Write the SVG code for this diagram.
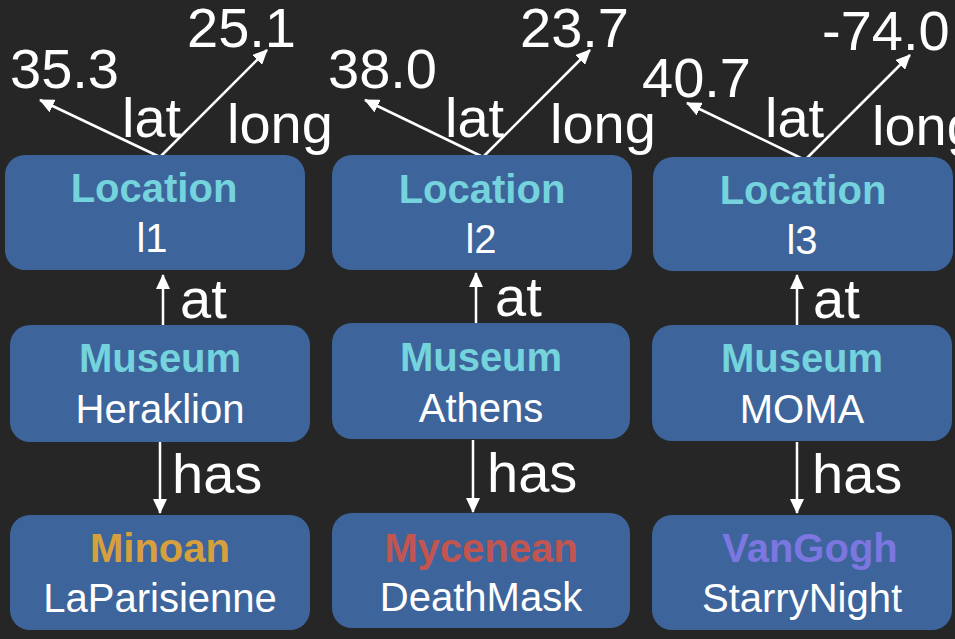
<svg xmlns="http://www.w3.org/2000/svg" width="955" height="639" viewBox="0 0 955 639">
<defs>
<style>
.box{fill:#3d659b;}
.t{font-family:"Liberation Sans",Arial,sans-serif;font-size:40px;text-anchor:middle;}
.ttl{font-weight:bold;fill:#74d3dc;}
.nm{fill:#ffffff;}
.lbl{font-family:"Liberation Sans",Arial,sans-serif;font-size:56px;fill:#ffffff;}
.edge{stroke:#ffffff;stroke-width:2.5;fill:none;marker-end:url(#ah);}
</style>
<marker id="ah" markerUnits="userSpaceOnUse" markerWidth="16" markerHeight="14" refX="14" refY="7" orient="auto">
<path d="M0,0 L15,7 L0,14 z" fill="#ffffff"/>
</marker>
</defs>
<rect width="955" height="639" fill="#262626"/>

<g id="connectors">
<line class="edge" x1="160" y1="157" x2="40" y2="100"/>
<line class="edge" x1="160" y1="157" x2="267" y2="50"/>
<line class="edge" x1="483" y1="157" x2="365" y2="100"/>
<line class="edge" x1="483" y1="157" x2="590" y2="50"/>
<line class="edge" x1="805" y1="160" x2="687" y2="103"/>
<line class="edge" x1="805" y1="160" x2="910" y2="55"/>
<line class="edge" x1="163" y1="325" x2="163" y2="275"/>
<line class="edge" x1="476" y1="323" x2="476" y2="273"/>
<line class="edge" x1="797" y1="325" x2="797" y2="275"/>
<line class="edge" x1="160" y1="442" x2="160" y2="513"/>
<line class="edge" x1="473" y1="440" x2="473" y2="512"/>
<line class="edge" x1="797" y1="442" x2="797" y2="513"/>
</g>

<g id="edge-labels">
<text class="lbl" x="10" y="88">35.3</text>
<text class="lbl" x="187" y="47">25.1</text>
<text class="lbl" x="122" y="137">lat</text>
<text class="lbl" x="227" y="143">long</text>
<text class="lbl" x="328" y="88">38.0</text>
<text class="lbl" x="520" y="47">23.7</text>
<text class="lbl" x="445" y="137">lat</text>
<text class="lbl" x="550" y="143">long</text>
<text class="lbl" x="642" y="97">40.7</text>
<text class="lbl" x="822" y="50">-74.0</text>
<text class="lbl" x="765" y="137">lat</text>
<text class="lbl" x="872" y="145">long</text>
<text class="lbl" x="180" y="318">at</text>
<text class="lbl" x="495" y="316">at</text>
<text class="lbl" x="813" y="318">at</text>
<text class="lbl" x="172" y="493">has</text>
<text class="lbl" x="487" y="492">has</text>
<text class="lbl" x="812" y="493">has</text>
</g>

<g id="loc1">
<rect class="box" x="5" y="155" width="300" height="115" rx="20"/>
<text class="t ttl" x="154" y="202">Location</text>
<text class="t nm" x="152" y="252">l1</text>
</g>
<g id="loc2">
<rect class="box" x="332" y="155" width="300" height="115" rx="20"/>
<text class="t ttl" x="482" y="203">Location</text>
<text class="t nm" x="481" y="253">l2</text>
</g>
<g id="loc3">
<rect class="box" x="653" y="157" width="300" height="114" rx="20"/>
<text class="t ttl" x="803" y="204">Location</text>
<text class="t nm" x="802" y="254">l3</text>
</g>

<g id="mus1">
<rect class="box" x="10" y="325" width="300" height="117" rx="20"/>
<text class="t ttl" x="160" y="372">Museum</text>
<text class="t nm" x="160" y="423">Heraklion</text>
</g>
<g id="mus2">
<rect class="box" x="332" y="323" width="298" height="116" rx="20"/>
<text class="t ttl" x="481" y="371">Museum</text>
<text class="t nm" x="481" y="422">Athens</text>
</g>
<g id="mus3">
<rect class="box" x="652" y="325" width="300" height="116" rx="20"/>
<text class="t ttl" x="802" y="372">Museum</text>
<text class="t nm" x="802" y="423">MOMA</text>
</g>

<g id="art1">
<rect class="box" x="10" y="515" width="300" height="115" rx="20"/>
<text class="t" x="160" y="562" font-weight="bold" fill="#d6a03e">Minoan</text>
<text class="t nm" x="160" y="612">LaParisienne</text>
</g>
<g id="art2">
<rect class="box" x="332" y="513" width="298" height="115" rx="20"/>
<text class="t" x="481" y="562" font-weight="bold" fill="#c2554f">Mycenean</text>
<text class="t nm" x="481" y="611">DeathMask</text>
</g>
<g id="art3">
<rect class="box" x="652" y="515" width="300" height="115" rx="20"/>
<text class="t" x="810" y="562" font-weight="bold" fill="#7c76e0">VanGogh</text>
<text class="t nm" x="802" y="612">StarryNight</text>
</g>
</svg>
